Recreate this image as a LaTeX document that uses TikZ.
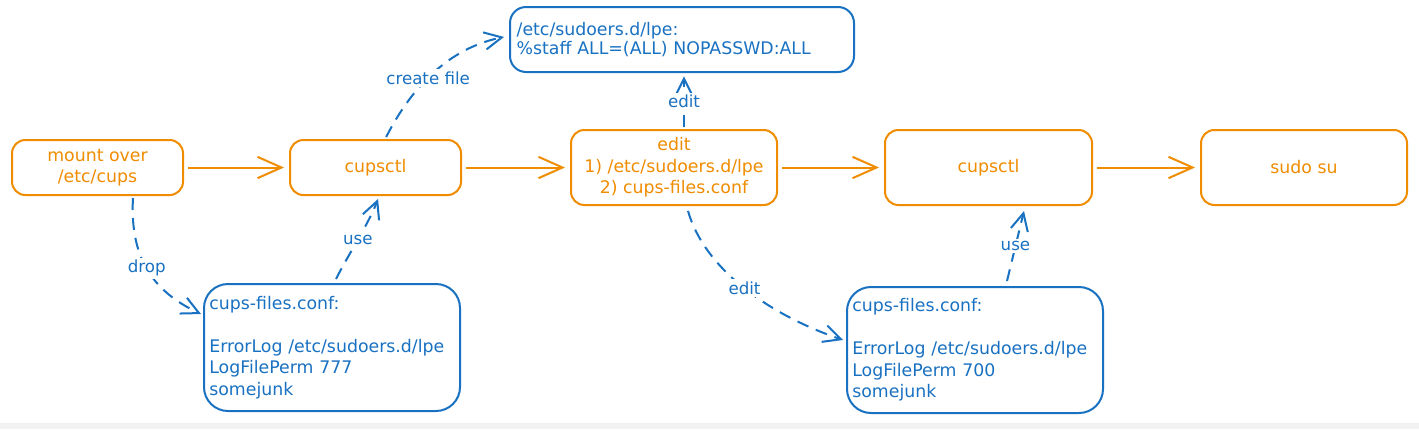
\documentclass[tikz,border=0pt]{standalone}
\usepackage{fontspec}
\setmainfont{DejaVu Sans}
\usetikzlibrary{arrows.meta}
\definecolor{exorange}{HTML}{F08C00}
\definecolor{exblue}{HTML}{1971C2}
\newcommand{\boxfnt}{\fontsize{13}{16.1}\selectfont}
\newcommand{\topfnt}{\fontsize{13}{14.25}\selectfont}
\newcommand{\labfnt}{\fontsize{12.5}{14}\selectfont}
\begin{document}
\begin{tikzpicture}[x=0.75pt,y=-0.75pt,
  obox/.style={draw=exorange, line width=1.5pt, rounded corners=10pt, text=exorange, align=center, font=\boxfnt, inner sep=0pt},
  bbox/.style={draw=exblue, line width=1.5pt, rounded corners=18pt, text=exblue, align=left, font=\boxfnt, inner xsep=4pt, inner ysep=0pt},
  oarrow/.style={draw=exorange, line width=1.5pt, shorten <=3pt, shorten >=3.75pt, -{Straight Barb[length=18pt,width=16pt,line width=1.5pt]}},
  barrow/.style={draw=exblue, line width=1.5pt, dash pattern=on 9pt off 6pt, -{Straight Barb[length=13pt,width=13pt,line width=1.5pt]}},
  elabel/.style={fill=white, text=exblue, font=\labfnt, inner sep=2pt}]
\useasboundingbox (0,0) rectangle (1419,429);
\fill[white] (0,0) rectangle (1419,429);
\fill[black!5] (0,423) rectangle (1419,429);

% orange nodes
\node[obox, minimum width=128.25pt, minimum height=41.25pt] (mount) at (97.5,167.5) {mount over\\/etc/cups};
\node[obox, minimum width=128.25pt, minimum height=41.25pt] (cups1) at (375.5,167.5) {cupsctl};
\node[obox, minimum width=154.5pt, minimum height=56.25pt] (edit) at (674,167.5) {edit\\1) /etc/sudoers.d/lpe\\2) cups-files.conf};
\node[obox, minimum width=155.25pt, minimum height=56.25pt] (cups2) at (988.5,167.5) {cupsctl};
\node[obox, minimum width=154.5pt, minimum height=56.25pt] (sudo) at (1304,167.5) {\raisebox{-2pt}{sudo su}};

% blue nodes
\node[bbox, rounded corners=12pt, inner xsep=5pt, text width=248pt, minimum height=48.75pt, font=\topfnt] (sudoers) at (682,39.5) {/etc/sudoers.d/lpe:\\\%staff ALL=(ALL) NOPASSWD:ALL\\[11.5pt]};
\node[bbox, text width=184pt, minimum height=95.25pt] (conf1) at (332,347.5) {cups-files.conf:\\[16.1pt]ErrorLog /etc/sudoers.d/lpe\\LogFilePerm 777\\somejunk};
\node[bbox, text width=184pt, minimum height=94.5pt] (conf2) at (975,350) {cups-files.conf:\\[16.1pt]ErrorLog /etc/sudoers.d/lpe\\LogFilePerm 700\\somejunk};

% orange arrows
\draw[oarrow] (mount) -- (cups1);
\draw[oarrow] (cups1) -- (edit);
\draw[oarrow] (edit) -- (cups2);
\draw[oarrow] (cups2) -- (sudo);

% blue dashed arrows
\draw[barrow] ([xshift=8pt,yshift=1.5pt]cups1.north) .. controls (405,100) and (440,50) .. ([xshift=-3.75pt,yshift=1.9pt]sudoers.west)
  node[elabel, pos=0.5] (lcreate) {create file};
\draw[barrow] ([xshift=7.5pt,yshift=1.5pt]edit.north) -- ([xshift=1.5pt,yshift=-2.5pt]sudoers.south)
  node[elabel, pos=0.5] (ledit1) {edit};
\draw[barrow] ([xshift=26.6pt,yshift=-1.5pt]mount.south) .. controls (130,255) and (150,290) .. ([xshift=-1.5pt,yshift=25.1pt]conf1.west)
  node[elabel, pos=0.5] (ldrop) {drop};
\draw[barrow] ([xshift=3pt,yshift=3pt]conf1.north) .. controls (348,255) and (368,225) .. ([xshift=1.9pt,yshift=-2.25pt]cups1.south)
  node[elabel, pos=0.5] (luse1) {use};
\draw[barrow] ([xshift=10.5pt,yshift=-3.75pt]edit.south) .. controls (705,270) and (770,315) .. ([xshift=-2.25pt,yshift=7.5pt]conf2.west)
  node[elabel, pos=0.5] (ledit2) {edit};
\draw[barrow] ([xshift=24pt,yshift=3.75pt]conf2.north) -- ([xshift=26.6pt,yshift=-3.75pt]cups2.south)
  node[elabel, pos=0.5] (luse2) {use};
\end{tikzpicture}
\end{document}
